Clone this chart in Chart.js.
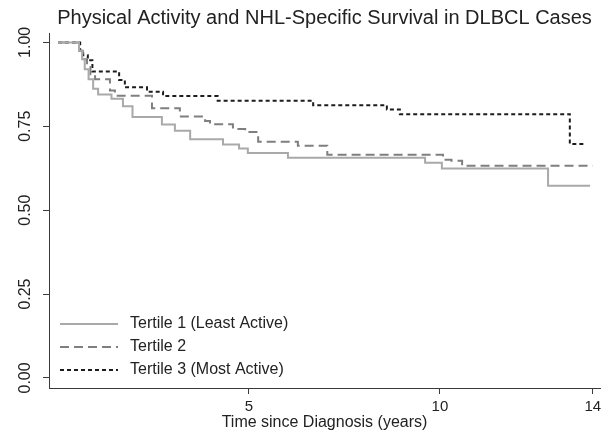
<!DOCTYPE html>
<html>
<head>
<meta charset="utf-8">
<script src="https://cdn.jsdelivr.net/npm/chart.js@4"></script>
<style>
  html, body { margin: 0; padding: 0; background: #fff; }
  #wrap { width: 613px; height: 435px; }
</style>
</head>
<body>
<div id="wrap"><canvas id="km"></canvas></div>
<script>
// Kaplan-Meier estimates (years, survival)
const t1Times = [0, 0.55, 0.63, 0.7, 0.8, 0.92, 1.05, 1.4, 1.7, 1.95, 2.72, 3.06, 3.46, 4.32, 4.74, 4.97, 6.02, 9.61, 10.05, 12.83, 13.93];
const t1Surv  = [1.0, 0.975, 0.95, 0.92, 0.89, 0.862, 0.845, 0.832, 0.81, 0.778, 0.755, 0.737, 0.711, 0.696, 0.684, 0.670, 0.656, 0.641, 0.624, 0.573, 0.573];

const t2Times = [0, 0.55, 0.65, 0.76, 0.85, 0.97, 1.36, 1.49, 2.46, 3.19, 3.85, 3.98, 4.58, 4.9, 5.24, 6.28, 7.05, 10.08, 10.3, 10.58, 14.0];
const t2Surv  = [1.0, 0.975, 0.95, 0.927, 0.905, 0.89, 0.857, 0.841, 0.804, 0.779, 0.766, 0.756, 0.742, 0.733, 0.704, 0.692, 0.665, 0.65, 0.647, 0.632, 0.632];

const t3Times = [0, 0.58, 0.66, 0.78, 0.9, 1.6, 1.75, 2.33, 2.75, 4.18, 6.68, 8.61, 8.95, 13.40, 13.80];
const t3Surv  = [1.0, 0.975, 0.962, 0.947, 0.913, 0.888, 0.866, 0.853, 0.840, 0.826, 0.813, 0.80, 0.786, 0.697, 0.697];

const seriesLabels = ["Tertile 1 (Least Active)", "Tertile 2", "Tertile 3 (Most Active)"];
const xTicks = [5, 10, 14];
const yTicks = [0, 0.25, 0.5, 0.75, 1.0];

const FONT = '"Liberation Sans", Arial, Helvetica, sans-serif';
const axisColor = "#3a3a3a";

function toPoints(xs, ys) {
  return xs.map((x, i) => ({ x: x, y: ys[i] }));
}

// legend drawn inside the plot, bottom left, like the original
const insideLegend = {
  id: "insideLegend",
  afterDraw(chart) {
    const { ctx, chartArea } = chart;
    ctx.save();
    ctx.font = "16px " + FONT;
    ctx.fillStyle = "#222";
    ctx.textBaseline = "middle";
    chart.data.datasets.forEach((ds, i) => {
      const y = chartArea.bottom - 64 + i * 23;
      const x0 = chartArea.left + 11;
      ctx.beginPath();
      ctx.setLineDash(ds.borderDash || []);
      ctx.lineWidth = ds.borderWidth;
      ctx.strokeStyle = ds.borderColor;
      ctx.moveTo(x0, y);
      ctx.lineTo(x0 + 58, y);
      ctx.stroke();
      ctx.setLineDash([]);
      ctx.fillText(ds.label, x0 + 70, y);
    });
    ctx.restore();
  }
};

new Chart(document.getElementById("km"), {
  type: "line",
  data: {
    datasets: [
      {
        label: seriesLabels[0],
        data: toPoints(t1Times, t1Surv),
        borderColor: "#a9a9a9",
        borderWidth: 2,
        stepped: true,
        pointRadius: 0,
        fill: false,
      },
      {
        label: seriesLabels[1],
        data: toPoints(t2Times, t2Surv),
        borderColor: "#7f7f7f",
        borderWidth: 2,
        borderDash: [9, 5],
        stepped: true,
        pointRadius: 0,
        fill: false,
      },
      {
        label: seriesLabels[2],
        data: toPoints(t3Times, t3Surv),
        borderColor: "#1c1c1c",
        borderWidth: 2,
        borderDash: [4, 3],
        stepped: true,
        pointRadius: 0,
        fill: false,
      },
    ],
  },
  options: {
    responsive: true,
    maintainAspectRatio: false,
    animation: false,
    layout: { padding: { left: 0, right: 13, top: 0, bottom: 0 } },
    plugins: {
      legend: { display: false },
      tooltip: { enabled: false },
      title: {
        display: true,
        fullSize: false,
        text: "Physical Activity and NHL-Specific Survival in DLBCL Cases",
        color: "#222",
        font: { family: FONT, size: 20, weight: "normal" },
        padding: { top: 6, bottom: 3 },
      },
    },
    scales: {
      x: {
        type: "linear",
        min: -0.236,
        max: 14.19,
        afterBuildTicks: (scale) => { scale.ticks = xTicks.map(v => ({ value: v })); },
        afterFit: (scale) => { scale.height = 47; },
        ticks: {
          color: "#222",
          padding: 4,
          maxRotation: 0,
          font: { family: FONT, size: 15 },
        },
        grid: { drawOnChartArea: false, tickLength: 6, color: axisColor, lineWidth: 1 },
        border: { display: true, color: axisColor, width: 1 },
        title: {
          display: true,
          text: "Time since Diagnosis (years)",
          color: "#222",
          font: { family: FONT, size: 16 },
          padding: 3,
        },
      },
      y: {
        type: "linear",
        min: -0.03,
        max: 1.028,
        afterBuildTicks: (scale) => { scale.ticks = yTicks.map(v => ({ value: v })); },
        afterFit: (scale) => { scale.width = 49; },
        ticks: {
          color: "#222",
          padding: 1.5,
          minRotation: 90,
          maxRotation: 90,
          crossAlign: "center",
          font: { family: FONT, size: 16 },
          callback: (v) => Number(v).toFixed(2),
        },
        grid: { drawOnChartArea: false, tickLength: 6, color: axisColor, lineWidth: 1 },
        border: { display: true, color: axisColor, width: 1 },
      },
    },
  },
  plugins: [insideLegend],
});
</script>
</body>
</html>
